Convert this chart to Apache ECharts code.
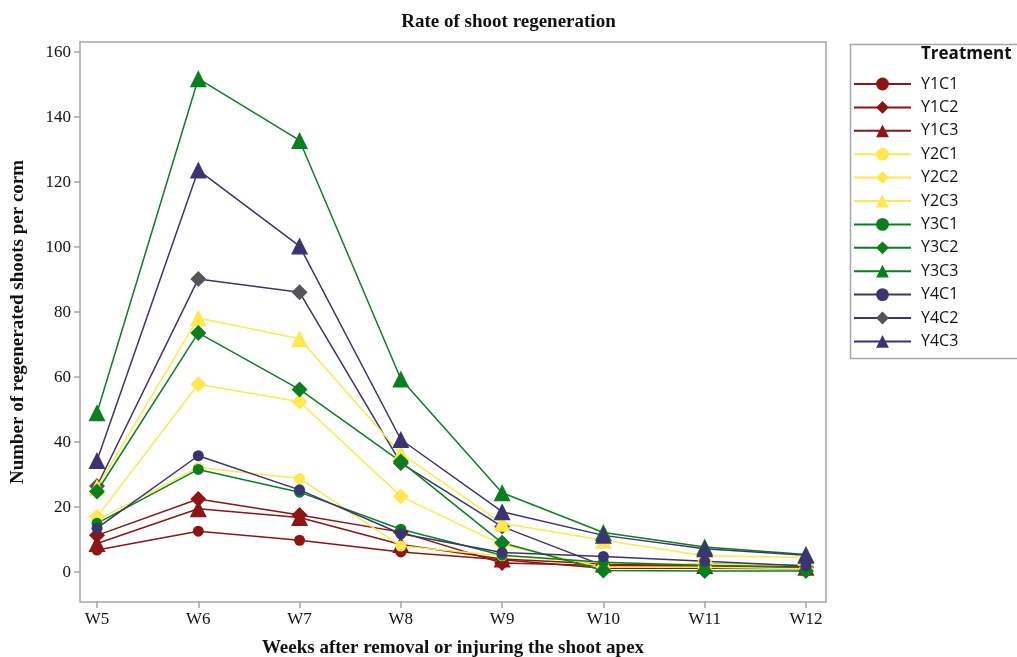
<!DOCTYPE html>
<html>
<head>
<meta charset="utf-8">
<script src="https://cdn.jsdelivr.net/npm/echarts@6/dist/echarts.min.js"></script>
<style>html,body{margin:0;padding:0;background:#fff}#c{width:1017px;height:657px}</style>
</head>
<body>
<div id="c"></div>
<script>
var categories = ['W5','W6','W7','W8','W9','W10','W11','W12'];
var yTicks = [0,20,40,60,80,100,120,140,160];

var Y1C1 = [6.8, 12.6, 9.8, 6.2, 3.8, 1.2, 1.2, 1.0];
var Y1C2 = [11.3, 22.5, 17.6, 12.3, 2.8, 2.0, 1.8, 1.5];
var Y1C3 = [8.8, 19.5, 16.8, 8.5, 4.0, 2.5, 2.0, 1.5];
var Y2C1 = [16.0, 32.2, 28.8, 8.0, 5.0, 2.8, 2.5, 2.0];
var Y2C2 = [17.0, 57.8, 52.4, 23.3, 8.4, 1.5, 1.5, 1.0];
var Y2C3 = [26.0, 78.2, 71.8, 36.5, 15.0, 9.8, 5.0, 4.5];
var Y3C1 = [15.0, 31.6, 24.6, 13.2, 5.2, 3.0, 2.0, 1.5];
var Y3C2 = [24.8, 73.6, 56.2, 34.0, 9.0, 0.5, 0.3, 0.3];
var Y3C3 = [49.0, 151.8, 132.8, 59.4, 24.4, 12.2, 7.7, 5.4];
var Y4C1 = [13.5, 35.8, 25.3, 11.8, 6.0, 4.8, 3.3, 1.9];
var Y4C2 = [26.5, 90.2, 86.1, 33.5, 14.0, 2.0, 2.5, 2.0];
var Y4C3 = [34.3, 123.7, 100.3, 40.8, 18.6, 11.3, 7.2, 5.2];

var RED = '#8c1515', YEL = '#fde84f', GRN = '#0a7f1f', NAVY = '#3a3470', GRAY = '#555555';

var seriesDefs = [
  ['Y1C1', Y1C1, RED, RED, 'circle'],
  ['Y1C2', Y1C2, RED, RED, 'diamond'],
  ['Y1C3', Y1C3, RED, RED, 'triangle'],
  ['Y2C1', Y2C1, YEL, YEL, 'circle'],
  ['Y2C2', Y2C2, YEL, YEL, 'diamond'],
  ['Y2C3', Y2C3, YEL, YEL, 'triangle'],
  ['Y3C1', Y3C1, GRN, GRN, 'circle'],
  ['Y3C2', Y3C2, GRN, GRN, 'diamond'],
  ['Y3C3', Y3C3, GRN, GRN, 'triangle'],
  ['Y4C1', Y4C1, NAVY, NAVY, 'circle'],
  ['Y4C2', Y4C2, NAVY, GRAY, 'diamond'],
  ['Y4C3', Y4C3, NAVY, NAVY, 'triangle']
];
var symSize = {circle: 11, diamond: 16, triangle: 17};

var series = seriesDefs.map(function (d) {
  return {
    name: d[0], type: 'line',
    data: d[1].map(function (v, i) { return [i, v]; }),
    symbol: d[4], symbolSize: symSize[d[4]],
    lineStyle: {color: d[2], width: 1.5},
    itemStyle: {color: d[3]},
    z: d[0] === 'Y4C2' ? 1 : 2,
    emphasis: {disabled: true},
    animation: false
  };
});

var SERIF = '"Liberation Serif","DejaVu Serif",serif';
var SANS = '"Open Sans","Noto Sans",sans-serif';
var tickIdx = categories.map(function (c, i) { return i; });

var chart = echarts.init(document.getElementById('c'), null, {renderer: 'canvas'});
chart.setOption({
  animation: false,
  backgroundColor: '#ffffff',
  title: {
    text: 'Rate of shoot regeneration', left: 'center', top: 8,
    textStyle: {fontFamily: SERIF, fontWeight: 'bold', fontSize: 19, color: '#111'}
  },
  grid: {left: 80, top: 42, right: 191, bottom: 55, outerBoundsMode: 'none', containLabel: false, show: true, borderColor: '#a6a6a6', borderWidth: 1.5, backgroundColor: 'transparent'},
  xAxis: {
    type: 'value', min: -0.168, max: 7.198,
    name: 'Weeks after removal or injuring the shoot apex',
    nameLocation: 'middle', nameGap: 37,
    nameTextStyle: {fontFamily: SERIF, fontWeight: 'bold', fontSize: 19, color: '#111'},
    axisLine: {show: false, onZero: false},
    splitLine: {show: false},
    axisTick: {show: true, length: 6, customValues: tickIdx, lineStyle: {color: '#a6a6a6', width: 1.5}},
    axisLabel: {customValues: tickIdx, formatter: function (v) { return categories[Math.round(v)]; }, fontFamily: SERIF, fontSize: 17, color: '#111', margin: 9}
  },
  yAxis: {
    type: 'value', min: -9.2, max: 163.1,
    name: 'Number of regenerated shoots per corm',
    nameLocation: 'middle', nameGap: 52, nameRotate: 90,
    nameTextStyle: {fontFamily: SERIF, fontWeight: 'bold', fontSize: 19, color: '#111'},
    axisLine: {show: false, onZero: false},
    splitLine: {show: false},
    axisTick: {show: true, length: 6, customValues: yTicks, lineStyle: {color: '#a6a6a6', width: 1.5}},
    axisLabel: {customValues: yTicks, fontFamily: SERIF, fontSize: 17, color: '#111', margin: 9}
  },
  legend: {
    orient: 'vertical', left: 848, top: 71,
    itemWidth: 57, itemHeight: 16, itemGap: 7.4,
    textStyle: {fontFamily: SANS, fontSize: 16, color: '#111', padding: [0, 0, 0, 5]},
    data: seriesDefs.map(function (d) { return d[0]; })
  },
  graphic: [
    {type: 'rect', left: 848, top: 42, shape: {width: 180, height: 314}, style: {fill: 'none', stroke: '#a6a6a6', lineWidth: 1.5}, silent: true},
    {type: 'text', left: 921, top: 46, style: {text: 'Treatment', font: 'bold 17px "Open Sans","Noto Sans",sans-serif', fill: '#111'}}
  ],
  series: series
});
</script>
</body>
</html>
